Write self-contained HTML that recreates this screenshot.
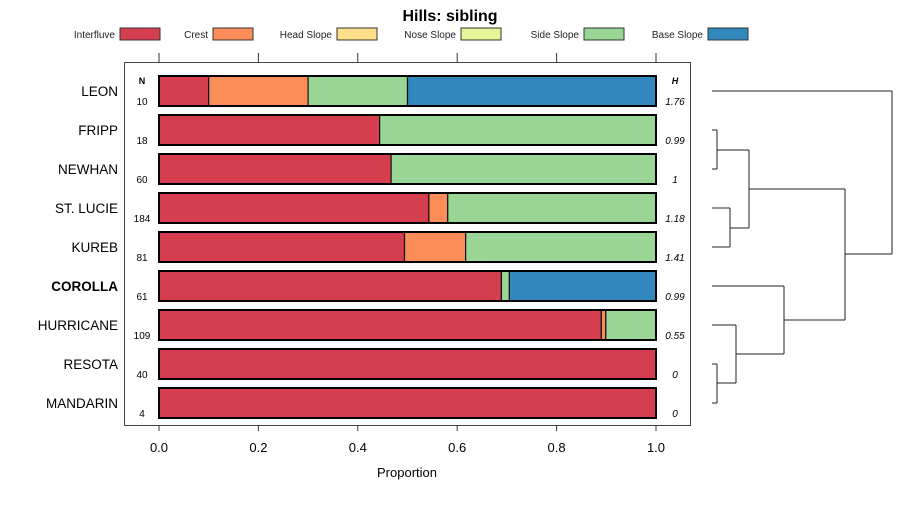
<!DOCTYPE html>
<html><head><meta charset="utf-8"><style>
body{margin:0;background:#fff;font-family:"Liberation Sans",sans-serif}
svg text{font-family:"Liberation Sans",sans-serif}
</style></head><body>
<svg id="c" width="900" height="500"></svg>
<script>
const names=["LEON","FRIPP","NEWHAN","ST. LUCIE","KUREB","COROLLA","HURRICANE","RESOTA","MANDARIN"];
const nVals=[10,18,60,184,81,61,109,40,4];
const hVals=["1.76","0.99","1","1.18","1.41","0.99","0.55","0","0"];
const classes=["Interfluve","Crest","Head Slope","Nose Slope","Side Slope","Base Slope"];
const colors=["#d53e4f","#fc8d59","#fee08b","#e6f598","#99d594","#3288bd"];
const interfluve=[0.1,0.444,0.467,0.543,0.494,0.689,0.89,1,1];
const crest=[0.2,0,0,0.038,0.123,0,0.009,0,0];
const headSlope=[0,0,0,0,0,0,0,0,0];
const noseSlope=[0,0,0,0,0,0,0,0,0];
const sideSlope=[0.2,0.556,0.533,0.419,0.383,0.016,0.101,0,0];
const baseSlope=[0.5,0,0,0,0,0.295,0,0,0];
const ticks=[0,0.2,0.4,0.6,0.8,1.0];
const tickLabels=["0.0","0.2","0.4","0.6","0.8","1.0"];
const series=[interfluve,crest,headSlope,noseSlope,sideSlope,baseSlope];
const svg=document.getElementById('c');const NS="http://www.w3.org/2000/svg";
function el(t,a,txt){const e=document.createElementNS(NS,t);for(const k in a)e.setAttribute(k,a[k]);if(txt!==undefined)e.textContent=txt;svg.appendChild(e);return e;}
const x=v=>159+v*497;
const y=i=>91+i*39;
let e=el('text',{x:450,y:21,'text-anchor':'middle','font-size':16,'font-weight':'bold'},'Hills: sibling');

const legX=[120,213,337,461,584,708];
classes.forEach((c,k)=>{
 e=el('text',{x:legX[k]-5,y:38,'text-anchor':'end','font-size':10,fill:'#222'},c);
 
 e=el('rect',{x:legX[k],y:28,width:40,height:12,fill:colors[k],stroke:'#333','stroke-width':1});
 
});
e=el('rect',{x:124.5,y:62.5,width:566,height:363,fill:'none',stroke:'#444'});

ticks.forEach((t,k)=>{
 el('line',{x1:x(t),x2:x(t),y1:53,y2:62,stroke:'#333'});
 el('line',{x1:x(t),x2:x(t),y1:425,y2:431,stroke:'#333'});
 e=el('text',{x:x(t),y:452,'text-anchor':'middle','font-size':13},tickLabels[k]);
 
});
e=el('text',{x:407,y:477,'text-anchor':'middle','font-size':13},'Proportion');

el('text',{x:142,y:84,'text-anchor':'middle','font-size':9,'font-weight':'bold'},'N');
el('text',{x:675,y:84,'text-anchor':'middle','font-size':9,'font-weight':'bold','font-style':'italic'},'H');
names.forEach((n,i)=>{
 const cy=y(i);
 e=el('text',{x:118,y:cy+5,'text-anchor':'end','font-size':13.5,'font-weight':n==='COROLLA'?'bold':'normal'},n);
 
 el('text',{x:142,y:cy+14,'text-anchor':'middle','font-size':10},nVals[i]);
 el('text',{x:675,y:cy+14,'text-anchor':'middle','font-size':10,'font-style':'italic'},hVals[i]);
 let acc=0;
 series.forEach((s,k)=>{
  const v=s[i];if(v<=0)return;
  const r=el('rect',{x:x(acc),y:cy-15,width:v*497,height:30,fill:colors[k],stroke:'#111','stroke-width':1.2});
  
  acc+=v;
 });
 el('rect',{x:x(0),y:cy-15,width:497,height:30,fill:'none',stroke:'#000','stroke-width':2});
});
// dendrogram
const segs=[[717,y(1),717,y(2)],[712,y(1),717,y(1)],[712,y(2),717,y(2)],
[730,y(3),730,y(4)],[712,y(3),730,y(3)],[712,y(4),730,y(4)],
[717,150,749,150],[730,228,749,228],[749,150,749,228],
[717,y(7),717,y(8)],[712,y(7),717,y(7)],[712,y(8),717,y(8)],
[712,y(6),736,y(6)],[717,383,736,383],[736,y(6),736,383],
[712,y(5),784,y(5)],[736,354,784,354],[784,y(5),784,354],
[749,189,845,189],[784,320,845,320],[845,189,845,320],
[712,y(0),892,y(0)],[845,254,892,254],[892,y(0),892,254]];
segs.forEach(s=>{const l=el('line',{x1:s[0],y1:s[1],x2:s[2],y2:s[3],stroke:'#222','stroke-width':1});
});
</script>
</body></html>
